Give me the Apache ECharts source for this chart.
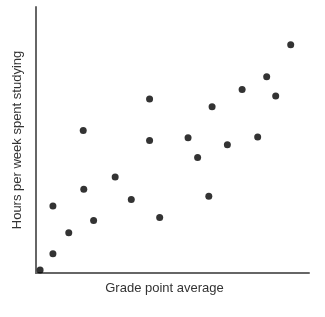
<!DOCTYPE html>
<html>
<head>
<meta charset="utf-8">
<script src="https://cdn.jsdelivr.net/npm/echarts@6/dist/echarts.min.js"></script>
<style>
  html, body { margin: 0; padding: 0; background: #fff; }
  #chart { width: 325px; height: 317px; }
</style>
</head>
<body>
<div id="chart"></div>
<script>
// grade point average (relative, 0-100) vs hours per week (relative, 0-100)
const gpa = [93.3, 84.5, 75.5, 87.8, 41.6, 64.5, 17.3, 41.6, 55.7, 81.2, 70.1,
  59.2, 29.0, 17.5, 34.9, 6.2, 63.3, 21.1, 45.3, 12.0, 6.2, 1.5];
const hours = [85.8, 73.8, 69.0, 66.5, 65.4, 62.5, 53.6, 49.8, 50.8, 51.1, 48.2,
  43.4, 36.1, 31.5, 27.6, 25.2, 28.9, 19.7, 20.9, 15.1, 7.2, 1.1];

const chart = echarts.init(document.getElementById('chart'));
chart.setOption({
  animation: false,
  grid: { left: 36, top: 7, width: 273, height: 266 },
  xAxis: {
    type: 'value', min: 0, max: 100,
    name: 'Grade point average',
    nameLocation: 'middle',
    nameGap: 9,
    nameTextStyle: { fontFamily: 'Liberation Sans', fontSize: 13, color: '#333', padding: [0, 16, 0, 0] },
    axisLine: { show: true, lineStyle: { color: '#666', width: 2 } },
    axisTick: { show: false },
    axisLabel: { show: false },
    splitLine: { show: false }
  },
  yAxis: {
    type: 'value', min: 0, max: 100,
    name: 'Hours per week spent studying',
    nameLocation: 'middle',
    nameGap: 12,
    nameTextStyle: { fontFamily: 'Liberation Sans', fontSize: 13, color: '#333' },
    axisLine: { show: true, lineStyle: { color: '#666', width: 2 } },
    axisTick: { show: false },
    axisLabel: { show: false },
    splitLine: { show: false }
  },
  series: [{
    type: 'scatter',
    symbolSize: 7,
    itemStyle: { color: '#000' },
    data: gpa.map((x, i) => [x, hours[i]])
  }]
});
</script>
</body>
</html>
